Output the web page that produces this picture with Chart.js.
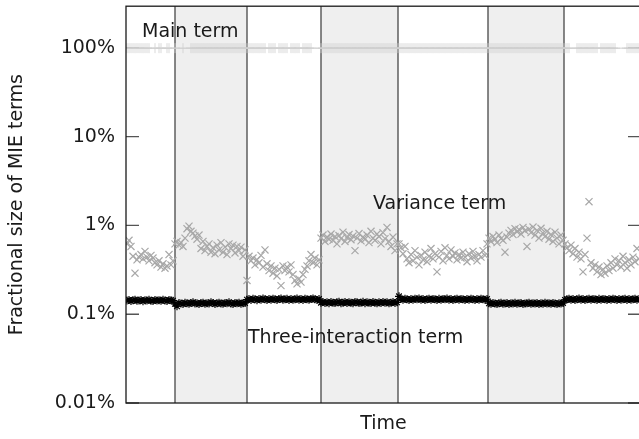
<!DOCTYPE html>
<html><head><meta charset="utf-8">
<script src="https://cdn.jsdelivr.net/npm/chart.js@4/dist/chart.umd.min.js"></script>
<style>html,body{margin:0;padding:0;overflow:hidden;background:#fff}#wrap{position:absolute;left:0;top:0;width:648px;height:439px}</style>
</head><body><div id="wrap"><canvas id="c" width="648" height="439"></canvas></div>
<script>
// ---- data (values in percent) ----
const mainTerm = [
99.4,99.3,99.4,99.4,99.3,99.5,99.4,99.4,99.3,99.4,
99.4,99.3,null,null,99.4,null,99.3,99.4,null,null,
99.4,99.3,null,null,99.4,null,null,null,99.3,null,
null,null,99.4,99.3,99.4,99.4,99.3,99.4,99.4,99.3,
99.4,99.4,99.3,99.4,99.4,99.3,99.4,99.4,99.3,99.4,
99.4,99.3,99.4,99.4,99.3,99.4,99.4,99.3,99.4,99.4,
99.3,99.4,99.4,99.3,99.4,99.4,99.3,99.4,99.4,99.3,
null,99.4,99.3,99.4,99.4,null,99.4,99.4,99.3,99.4,
99.4,null,99.4,99.4,99.3,99.4,99.4,null,99.4,99.4,
99.3,99.4,99.4,null,null,null,null,99.3,99.4,99.3,
99.4,99.4,99.3,99.4,99.4,99.3,99.4,99.4,99.3,99.4,
99.4,99.3,99.4,99.4,99.3,99.4,99.4,99.3,99.4,99.4,
99.3,99.4,99.4,99.3,99.4,99.4,99.3,99.4,99.4,99.3,
99.4,99.4,99.3,99.4,99.4,99.3,99.4,99.4,99.3,99.4,
99.4,99.3,99.4,99.4,99.3,99.4,99.4,99.3,99.4,99.4,
99.3,99.4,99.4,99.3,99.4,99.4,99.3,99.4,99.4,99.3,
99.4,99.4,99.3,99.4,99.4,99.3,99.4,99.4,99.3,99.4,
99.4,99.3,99.4,99.4,99.3,99.4,99.4,99.3,99.4,99.4,
99.3,99.4,99.4,99.3,99.4,99.4,99.3,99.4,99.4,99.3,
99.4,99.4,99.3,99.4,99.4,99.3,99.4,99.4,99.3,99.4,
99.4,99.3,99.4,99.4,99.3,99.4,99.4,99.3,99.4,99.4,
99.3,99.4,99.4,99.3,99.4,99.4,99.3,99.4,99.4,99.3,
99.4,99.3,null,null,null,99.4,99.4,99.3,99.4,99.4,
99.3,99.4,99.4,99.3,99.4,99.4,null,99.4,99.3,99.4,
99.4,99.3,99.4,99.4,99.3,null,null,null,null,null,
99.4,99.3,99.4,99.4,99.3,99.4,99.4
];
const varianceTerm = [
0.62,0.68,0.58,0.45,0.29,0.41,0.44,0.47,0.42,0.51,0.44,0.40,0.46,0.43,0.38,0.36,0.40,0.34,0.37,0.33,0.35,0.47,0.36,0.40,
0.62,0.66,0.60,0.64,0.58,0.72,0.92,0.98,0.86,0.82,0.76,0.70,0.78,0.55,0.66,0.52,0.58,0.62,0.50,0.56,0.48,0.60,0.53,0.64,0.50,0.57,0.47,0.62,0.55,0.60,0.49,0.58,0.52,0.57,0.45,0.53,
0.24,0.45,0.40,0.43,0.36,0.41,0.38,0.46,0.34,0.53,0.37,0.31,0.35,0.29,0.33,0.27,0.32,0.21,0.35,0.31,0.34,0.30,0.36,0.28,0.24,0.22,0.25,0.23,0.28,0.32,0.35,0.40,0.47,0.38,0.43,0.36,0.41,
0.72,0.78,0.66,0.74,0.70,0.80,0.68,0.75,0.62,0.77,0.71,0.84,0.66,0.73,0.79,0.69,0.76,0.52,0.72,0.81,0.67,0.74,0.70,0.78,0.64,0.86,0.72,0.68,0.80,0.75,0.62,0.83,0.71,0.95,0.66,0.58,0.74,0.52,0.62,
0.62,0.56,0.48,0.58,0.42,0.38,0.47,0.40,0.52,0.44,0.36,0.46,0.41,0.50,0.39,0.45,0.55,0.42,0.48,0.30,0.44,0.51,0.40,0.56,0.46,0.42,0.53,0.45,0.49,0.41,0.47,0.43,0.50,0.44,0.39,0.48,0.43,0.51,0.45,0.40,0.47,0.44,0.52,0.46,0.62,
0.72,0.66,0.75,0.70,0.64,0.78,0.71,0.68,0.50,0.74,0.82,0.88,0.79,0.92,0.85,0.90,0.80,0.95,0.87,0.58,0.91,0.83,0.96,0.78,0.88,0.72,0.93,0.82,0.75,0.86,0.70,0.79,0.66,0.84,0.72,0.62,0.78,0.68,
0.62,0.56,0.52,0.60,0.48,0.55,0.44,0.50,0.42,0.30,0.47,0.72,1.85,0.38,0.33,0.36,0.30,0.34,0.28,0.32,0.29,0.35,0.31,0.38,0.33,0.42,0.36,0.40,0.34,0.45,0.38,0.33,0.41,0.36,0.44,0.39,0.55,0.42
];
const interactionTerm = [
0.143,0.145,0.141,0.144,0.146,0.142,0.143,0.145,0.140,0.144,0.143,0.146,0.142,0.141,0.145,0.143,0.144,0.142,0.146,0.143,0.141,0.145,0.144,0.142,
0.131,0.123,0.134,0.132,0.130,0.135,0.133,0.131,0.134,0.136,0.132,0.133,0.130,0.134,0.135,0.131,0.133,0.132,0.136,0.134,0.130,0.133,0.135,0.132,0.131,0.134,0.133,0.136,0.132,0.130,0.134,0.133,0.135,0.131,0.133,0.134,
0.146,0.148,0.145,0.149,0.147,0.144,0.148,0.146,0.150,0.147,0.145,0.148,0.146,0.149,0.147,0.145,0.148,0.150,0.146,0.147,0.149,0.145,0.148,0.146,0.147,0.150,0.146,0.148,0.145,0.149,0.147,0.146,0.148,0.150,0.147,0.145,0.148,
0.135,0.137,0.134,0.136,0.133,0.137,0.135,0.134,0.136,0.138,0.133,0.135,0.137,0.134,0.136,0.135,0.133,0.137,0.136,0.134,0.135,0.138,0.133,0.136,0.135,0.134,0.137,0.135,0.133,0.136,0.134,0.137,0.135,0.136,0.133,0.135,0.137,0.134,0.136,
0.159,0.148,0.146,0.149,0.147,0.145,0.148,0.146,0.149,0.147,0.150,0.146,0.148,0.145,0.147,0.149,0.146,0.148,0.147,0.145,0.149,0.146,0.148,0.147,0.150,0.146,0.148,0.145,0.147,0.149,0.146,0.148,0.147,0.145,0.148,0.146,0.149,0.147,0.145,0.148,0.146,0.149,0.147,0.146,0.148,
0.133,0.131,0.134,0.132,0.130,0.133,0.135,0.131,0.132,0.134,0.130,0.133,0.132,0.135,0.131,0.133,0.134,0.130,0.132,0.133,0.135,0.131,0.133,0.132,0.134,0.130,0.133,0.131,0.135,0.132,0.133,0.131,0.134,0.132,0.130,0.133,0.132,0.134,
0.145,0.147,0.149,0.146,0.148,0.145,0.147,0.150,0.146,0.148,0.145,0.147,0.149,0.146,0.148,0.147,0.145,0.149,0.146,0.148,0.147,0.145,0.148,0.146,0.149,0.147,0.145,0.148,0.146,0.147,0.149,0.145,0.148,0.146,0.147,0.149,0.146,0.148
];
// sample index along the time axis
const timeSteps = varianceTerm.map((_, i) => i);
// shaded time intervals (in sample units)
const shadedStart = [24, 97, 180.5];
const shadedEnd = [60, 135.5, 218.5];
// y ticks
const yTickValues = [0.01, 0.1, 1, 10, 100];
const yTickLabels = ['0.01%', '0.1%', '1%', '10%', '100%'];
const seriesNames = ['Main term', 'Variance term', 'Three-interaction term'];
const xTitle = 'Time';
const yTitle = 'Fractional size of MIE terms';
// label anchors in data coordinates (time sample, percent)
const nameAnchors = [{x: 7.5, y: 131}, {x: 123, y: 1.53}, {x: 60.5, y: 0.0474}];

// ---- chart ----
const FAMILY = '"DejaVu Sans", sans-serif';
const TXT = '#1a1a1a';
const toPts = arr => arr.map((v, i) => ({x: timeSteps[i], y: v}));

const decor = {
  id: 'decor',
  beforeDatasetsDraw(chart) {
    const {ctx, chartArea: a, scales: {x, y}} = chart;
    ctx.save();
    ctx.fillStyle = '#efefef';
    shadedStart.forEach((s, i) => {
      const x0 = x.getPixelForValue(s), x1 = x.getPixelForValue(shadedEnd[i]);
      ctx.fillRect(x0, a.top, x1 - x0, a.bottom - a.top);
    });
    ctx.strokeStyle = '#555';
    ctx.lineWidth = 1.4;
    ctx.beginPath();
    shadedStart.concat(shadedEnd).forEach(s => {
      const px = x.getPixelForValue(s);
      ctx.moveTo(px, a.top); ctx.lineTo(px, a.bottom);
    });
    ctx.stroke();
    ctx.strokeStyle = '#555';
    ctx.lineWidth = 1.3;
    ctx.beginPath();
    yTickValues.forEach(v => {
      const py = y.getPixelForValue(v);
      ctx.moveTo(a.left, py); ctx.lineTo(a.left + 13, py);
      ctx.moveTo(a.right - 13, py); ctx.lineTo(a.right, py);
    });
    ctx.stroke();
    ctx.restore();
  },
  afterDatasetsDraw(chart) {
    const {ctx, chartArea: a, scales: {x, y}} = chart;
    ctx.save();
    ctx.strokeStyle = '#1a1a1a';
    ctx.lineWidth = 1.3;
    ctx.strokeRect(a.left, a.top, a.right - a.left, a.bottom - a.top);
    ctx.fillStyle = TXT;
    ctx.font = '19px ' + FAMILY;
    ctx.textAlign = 'left';
    ctx.textBaseline = 'alphabetic';
    seriesNames.forEach((n, i) => {
      ctx.fillText(n, x.getPixelForValue(nameAnchors[i].x), y.getPixelForValue(nameAnchors[i].y));
    });
    ctx.restore();
  }
};

new Chart(document.getElementById('c'), {
  type: 'scatter',
  data: {
    datasets: [
      {label: seriesNames[2], data: toPts(interactionTerm), pointStyle: 'star', pointRadius: 4,
       borderColor: '#000', backgroundColor: '#000', pointBorderWidth: 1.2, showLine: false},
      {label: seriesNames[1], data: toPts(varianceTerm), pointStyle: 'crossRot', pointRadius: 5,
       borderColor: '#a8a8a8', backgroundColor: '#a8a8a8', pointBorderWidth: 1.2, showLine: false},
      {label: seriesNames[0], data: toPts(mainTerm), pointStyle: 'cross', pointRadius: 5,
       borderColor: '#cfcfcf', backgroundColor: '#cfcfcf', borderWidth: 1, pointBorderWidth: 0.8,
       showLine: true, spanGaps: true}
    ]
  },
  options: {
    responsive: false, animation: false, devicePixelRatio: 1,
    layout: {padding: {top: 4, right: 7, left: 0, bottom: 0}},
    plugins: {legend: {display: false}, tooltip: {enabled: false}},
    scales: {
      x: {
        type: 'linear', min: -0.5, max: 257,
        grid: {display: false, drawTicks: false}, border: {display: false},
        ticks: {display: false},
        title: {display: true, text: xTitle, color: TXT, font: {family: FAMILY, size: 19}, padding: {top: 0, bottom: 4}},
        afterFit(s) { s.height = 36; s.paddingLeft = 0; s.paddingRight = 0; }
      },
      y: {
        type: 'logarithmic', min: 0.01, max: 295,
        grid: {display: false, drawTicks: false}, border: {display: false},
        afterBuildTicks(s) { s.ticks = yTickValues.map(v => ({value: v})); },
        ticks: {padding: 11, color: TXT, font: {family: FAMILY, size: 19}, autoSkip: false,
                callback: v => { const k = yTickValues.indexOf(v); return k >= 0 ? yTickLabels[k] : ''; }},
        title: {display: true, text: yTitle, color: TXT, font: {family: FAMILY, size: 19}, padding: {top: 6, bottom: 0}},
        afterFit(s) { s.width = 126; s.paddingTop = 0; s.paddingBottom = 0; }
      }
    }
  },
  plugins: [decor]
});
</script>
</body></html>
